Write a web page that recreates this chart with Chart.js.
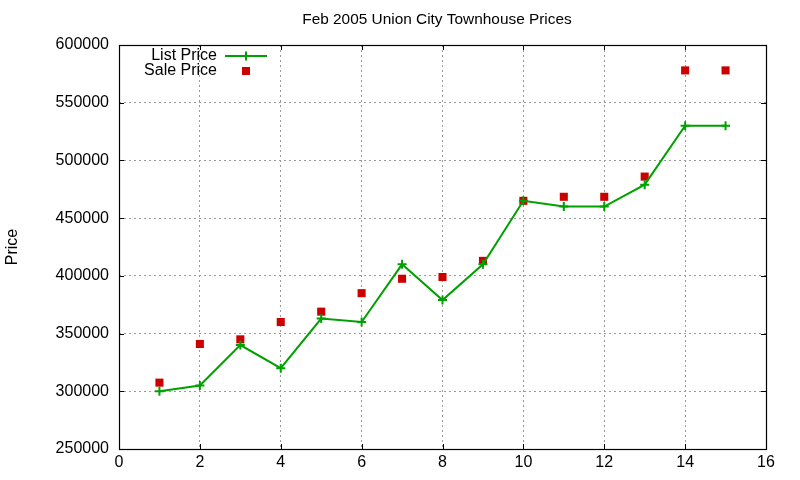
<!DOCTYPE html>
<html>
<head>
<meta charset="utf-8">
<script src="https://cdn.jsdelivr.net/npm/chart.js@4.4.1/dist/chart.umd.min.js"></script>
<style>
body { margin: 0; background: #fff; }
#chart { display: block; }
</style>
</head>
<body>
<canvas id="chart" width="800" height="480"></canvas>
<script>
// data
const houses = [1, 2, 3, 4, 5, 6, 7, 8, 9, 10, 11, 12, 13, 14, 15];
const listPrice = [300000, 305000, 340000, 320000, 363000, 360000, 410000, 379000, 410000, 465000, 460000, 460000, 479000, 530000, 530000];
const salePrice = [307500, 341000, 345000, 360000, 369000, 385000, 397500, 399000, 413000, 465000, 468500, 468500, 486000, 578000, 578000];
const xTicks = [0, 2, 4, 6, 8, 10, 12, 14, 16];
const yTicks = [250000, 300000, 350000, 400000, 450000, 500000, 550000, 600000];
const chartTitle = 'Feb 2005 Union City Townhouse Prices';
const yTitle = 'Price';

const green = '#00a000';
const red = '#cc0000';

Chart.defaults.font.family = '"Liberation Sans", Arial, sans-serif';
Chart.defaults.font.size = 16;
Chart.defaults.color = '#000';

// gnuplot look: frame, inward ticks on all sides, title and legend inside the plot
const gnuplotBits = {
  id: 'gnuplotBits',
  afterDraw(chart) {
    const c = chart.ctx;
    const a = chart.chartArea;
    const xs = chart.scales.x, ys = chart.scales.y;
    c.save();
    c.strokeStyle = '#000';
    c.lineWidth = 1;
    c.setLineDash([]);
    c.beginPath();
    xTicks.forEach(function (v) {
      const px = Math.round(xs.getPixelForValue(v)) + 0.5;
      c.moveTo(px, a.bottom); c.lineTo(px, a.bottom - 5);
      c.moveTo(px, a.top); c.lineTo(px, a.top + 5);
    });
    yTicks.forEach(function (v) {
      const py = Math.round(ys.getPixelForValue(v)) + 0.5;
      c.moveTo(a.left, py); c.lineTo(a.left + 5, py);
      c.moveTo(a.right, py); c.lineTo(a.right - 5, py);
    });
    c.stroke();
    c.lineWidth = 1.2;
    c.strokeRect(Math.round(a.left) + 0.5, Math.round(a.top) + 0.5, Math.round(a.right - a.left), Math.round(a.bottom - a.top));

    // title
    c.fillStyle = '#000';
    c.font = '15.4px "Liberation Sans", Arial, sans-serif';
    c.textAlign = 'center';
    c.textBaseline = 'middle';
    c.fillText(chartTitle, 437, 20);

    // legend
    c.font = '16px "Liberation Sans", Arial, sans-serif';
    c.textAlign = 'right';
    const ds = chart.data.datasets;
    c.fillText(ds[0].label, 217, 56);
    c.fillText(ds[1].label, 217, 71);
    c.strokeStyle = green;
    c.lineWidth = 2;
    c.beginPath();
    c.moveTo(225, 56); c.lineTo(267, 56);
    c.moveTo(246, 51.5); c.lineTo(246, 60.5);
    c.stroke();
    c.fillStyle = red;
    c.fillRect(242, 67, 8, 8);
    c.restore();
  }
};

new Chart(document.getElementById('chart'), {
  type: 'scatter',
  data: {
    datasets: [{
      label: 'List Price',
      data: houses.map(function (h, i) { return { x: h, y: listPrice[i] }; }),
      showLine: true,
      borderColor: green,
      backgroundColor: green,
      borderWidth: 2,
      pointStyle: 'cross',
      pointRadius: 4.5,
      pointBorderWidth: 2,
      pointHoverRadius: 4.5
    }, {
      label: 'Sale Price',
      data: houses.map(function (h, i) { return { x: h, y: salePrice[i] }; }),
      showLine: false,
      borderColor: red,
      backgroundColor: red,
      pointStyle: 'rect',
      pointRadius: 5.7,
      pointBorderWidth: 0,
      pointHoverRadius: 5.7
    }]
  },
  options: {
    responsive: false,
    animation: false,
    devicePixelRatio: 1,
    layout: { padding: { top: 45, right: 34, bottom: 0, left: 0 } },
    plugins: {
      legend: { display: false },
      title: { display: false },
      tooltip: { enabled: false }
    },
    scales: {
      x: {
        type: 'linear',
        min: 0,
        max: 16,
        afterBuildTicks: function (s) { s.ticks = xTicks.map(function (v) { return { value: v }; }); },
        afterFit: function (s) { s.height = 31; },
        ticks: { padding: 4, font: { size: 16 } },
        grid: { color: '#9a9a9a', drawTicks: false },
        border: { display: false, dash: [2, 3] }
      },
      y: {
        min: 250000,
        max: 600000,
        afterBuildTicks: function (s) { s.ticks = yTicks.map(function (v) { return { value: v }; }); },
        afterFit: function (s) { s.width = 119; },
        ticks: { padding: 10, font: { size: 16 }, callback: function (v) { return String(v); } },
        grid: { color: '#9a9a9a', drawTicks: false },
        border: { display: false, dash: [2, 3] },
        title: { display: true, text: yTitle, font: { size: 16 }, padding: { top: 3, bottom: 0 } }
      }
    }
  },
  plugins: [gnuplotBits]
});
</script>
</body>
</html>
